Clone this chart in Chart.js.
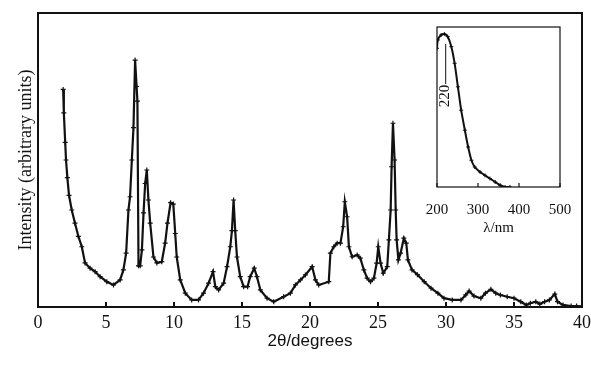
<!DOCTYPE html>
<html>
<head>
<meta charset="utf-8">
<script src="https://cdn.jsdelivr.net/npm/chart.js@4/dist/chart.umd.min.js"></script>
<style>
  body { margin: 0; background: #fff; }
  #wrap { position: relative; width: 591px; height: 368px; }
  #main { position: absolute; left: 0; top: 0; }
  #inset { position: absolute; left: 400px; top: 15px; }
</style>
</head>
<body>
<div id="wrap">
  <canvas id="main" width="591" height="368"></canvas>
  <canvas id="inset" width="180" height="225"></canvas>
</div>
<script>
// XRD pattern (2θ in degrees, intensity in arbitrary units 0-100)
const theta = [1.85, 1.9, 2.0, 2.06, 2.16, 2.28, 2.48, 2.72, 2.97, 3.22, 3.46, 3.83, 4.2, 4.57, 5.06, 5.55,
  6.04, 6.28, 6.48, 6.65, 6.77, 6.9, 7.02, 7.14, 7.25, 7.31, 7.39, 7.51, 7.64, 7.76, 7.88, 8.0, 8.12, 8.25,
  8.49, 8.74, 9.1, 9.35, 9.52, 9.75, 9.95, 10.09, 10.2, 10.46, 10.83, 11.3, 11.8, 12.17, 12.54, 12.87,
  13.04, 13.28, 13.65, 13.9, 14.14, 14.26, 14.38, 14.5, 14.63, 14.87, 15.12, 15.41, 15.6, 15.9, 16.1,
  16.35, 16.84, 17.33, 18.06, 18.56, 18.93, 19.3, 19.66, 20.16, 20.4, 20.64, 21.38, 21.5, 21.75, 22.0,
  22.24, 22.44, 22.56, 22.73, 22.86, 23.1, 23.47, 23.7, 23.96, 24.2, 24.45, 24.7, 24.9, 25.02, 25.19,
  25.39, 25.68, 25.8, 25.93, 26.0, 26.1, 26.22, 26.3, 26.37, 26.5, 26.66, 26.9, 27.08, 27.2, 27.5, 27.9,
  28.4, 28.9, 29.4, 29.85, 30.46, 31.1, 31.45, 31.7, 32.06, 32.56, 32.9, 33.3, 33.66, 34.0, 34.5, 35.0,
  35.5, 35.9, 36.2, 36.6, 36.9, 37.25, 37.6, 38.0, 38.2, 38.6, 39.2, 39.6, 40.0];
const intensity = [74, 66, 56, 50, 44, 38, 33, 28.5, 24, 20.5, 15, 13.2, 12, 10.3, 8.6, 7.5,
  9.2, 12.6, 18.3, 33, 37.5, 50, 61, 84, 75, 70, 14, 14, 19.4, 32, 42, 46.6, 36.4, 28.5,
  17, 15, 15.4, 21.7, 28.5, 35.5, 35, 25, 17, 9.2, 4.7, 2.4, 2.4, 4.7, 8.1, 12,
  6.9, 5.8, 8.1, 13.7, 20.5, 26, 36.4, 26, 17, 10.3, 6.9, 6.9, 10.3, 13.2, 10.3,
  5.8, 3, 1.8, 3.5, 4.7, 7.5, 9.2, 10.9, 13.7, 9.2, 7.5, 8.6, 18.3, 20.5, 21.7,
  21.7, 27.3, 35.8, 30.7, 20.5, 17.1, 17.7, 16.6, 12.6, 9.8, 8.6, 9.8, 14.9, 20.5, 14.9,
  11.5, 13.7, 22.8, 33, 47.7, 62.5, 50, 33, 22.8, 16, 18.3, 23.4, 21.7, 16, 12.6, 11,
  8.6, 6.4, 4.7, 3, 2.4, 2.4, 4.1, 5.4, 3.7, 3, 4.7, 6, 4.7, 4.1, 3.5, 3,
  1.8, 0.7, 1.3, 1.8, 1, 1.8, 2.4, 4.4, 1.8, 0.7, 0.3, 0.3, 0.2];
const thetaTicks = [0, 5, 10, 15, 20, 25, 30, 35, 40];

// inset: UV-vis absorption (wavelength in nm)
const wavelength = [200, 202, 210, 218, 226, 235, 243, 251, 259, 268, 276, 284, 292, 305, 317, 329, 342, 354, 366, 378];
const absorbance = [86.7, 91.9, 95, 95.6, 94, 87.7, 77.3, 62.6, 48, 35.5, 25, 16.7, 12.5, 9.4, 7.3, 5.3, 3.1, 1.1, 0, 0];
const lambdaTicks = [200, 300, 400, 500];
const peakNm = 220;

const ink = '#111';

const framePlugin = {
  id: 'frame',
  afterDatasetsDraw(chart, args, opts) {
    const { ctx, chartArea: a, scales: { x } } = chart;
    ctx.save();
    ctx.strokeStyle = ink;
    ctx.lineWidth = opts.width;
    ctx.strokeRect(a.left, a.top, a.right - a.left, a.bottom - a.top);
    ctx.beginPath();
    x.ticks.forEach(t => {
      const px = x.getPixelForValue(t.value);
      ctx.moveTo(px, a.bottom);
      ctx.lineTo(px, a.bottom - opts.tick);
    });
    ctx.stroke();
    ctx.restore();
  }
};

const peakLabel = {
  id: 'peakLabel',
  afterDatasetsDraw(chart) {
    const { ctx, scales: { x, y } } = chart;
    const px = x.getPixelForValue(peakNm);
    const top = y.getPixelForValue(Math.max(...absorbance)) + 10;
    ctx.save();
    ctx.strokeStyle = ink;
    ctx.lineWidth = 1;
    ctx.beginPath();
    ctx.moveTo(px + 0.5, top);
    ctx.lineTo(px + 0.5, top + 40);
    ctx.stroke();
    ctx.translate(px, top + 52);
    ctx.rotate(-Math.PI / 2);
    ctx.fillStyle = ink;
    ctx.font = '15px "Liberation Serif"';
    ctx.textAlign = 'center';
    ctx.textBaseline = 'middle';
    ctx.fillText(String(peakNm), 0, 0);
    ctx.restore();
  }
};

function ticksFrom(list) {
  return scale => { scale.ticks = list.map(v => ({ value: v })); };
}

// fixed axis box size, no extra room for the end labels
function fitTo(h) {
  return s => { s.height = h; s.paddingLeft = 0; s.paddingRight = 0; };
}

new Chart(document.getElementById('main'), {
  type: 'line',
  data: {
    datasets: [{
      data: theta.map((t, i) => ({ x: t, y: intensity[i] })),
      borderColor: ink,
      borderWidth: 2.2,
      pointStyle: 'cross',
      pointRadius: 2.5,
      pointBorderWidth: 1.2,
      pointBorderColor: ink,
      tension: 0
    }]
  },
  options: {
    responsive: false,
    devicePixelRatio: 1,
    animation: false,
    layout: { padding: { top: 13, right: 9, left: 0, bottom: 16 } },
    plugins: { legend: { display: false }, tooltip: { enabled: false }, frame: { width: 2, tick: 5 } },
    scales: {
      x: {
        type: 'linear', min: 0, max: 40,
        afterBuildTicks: ticksFrom(thetaTicks),
        afterFit: fitTo(45),
        grid: { display: false, drawTicks: false },
        border: { display: false },
        ticks: { color: ink, padding: 5, font: { family: 'Liberation Serif', size: 18 } },
        title: { display: true, text: '2θ/degrees', color: ink, padding: 0,
                 font: { family: 'Liberation Sans', size: 17 } }
      },
      y: {
        min: 0, max: 100,
        afterFit: s => { s.width = 38; },
        grid: { display: false },
        border: { display: false },
        ticks: { display: false },
        title: { display: true, text: 'Intensity (arbitrary units)', color: ink, padding: { top: 15, bottom: 0 },
                 font: { family: 'Liberation Serif', size: 18 } }
      }
    }
  },
  plugins: [framePlugin]
});

new Chart(document.getElementById('inset'), {
  type: 'line',
  data: {
    datasets: [{
      data: wavelength.map((w, i) => ({ x: w, y: absorbance[i] })),
      borderColor: ink,
      borderWidth: 2,
      pointStyle: 'cross',
      pointRadius: 2,
      pointBorderWidth: 1,
      pointBorderColor: ink,
      tension: 0.3
    }]
  },
  options: {
    responsive: false,
    devicePixelRatio: 1,
    animation: false,
    layout: { padding: { top: 12, right: 20, left: 37, bottom: 3 } },
    plugins: { legend: { display: false }, tooltip: { enabled: false }, frame: { width: 1.2, tick: 4 } },
    scales: {
      x: {
        type: 'linear', min: 200, max: 500,
        afterBuildTicks: ticksFrom(lambdaTicks),
        afterFit: fitTo(50),
        grid: { display: false, drawTicks: false },
        border: { display: false },
        ticks: { color: ink, padding: 14, font: { family: 'Liberation Serif', size: 15 } },
        title: { display: true, text: 'λ/nm', color: ink, padding: 0,
                 font: { family: 'Liberation Serif', size: 15 } }
      },
      y: { display: false, min: 0, max: 100 }
    }
  },
  plugins: [framePlugin, peakLabel]
});
</script>
</body>
</html>
